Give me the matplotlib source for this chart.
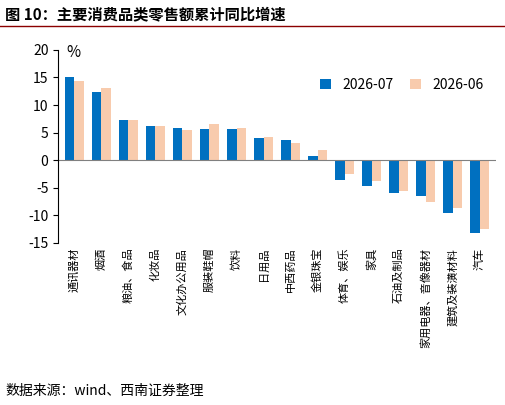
import matplotlib
matplotlib.use("Agg")
import matplotlib.pyplot as plt
import numpy as np

plt.rcParams['font.family'] = ['Noto Sans CJK SC', 'DejaVu Sans']
plt.rcParams['axes.unicode_minus'] = False

categories = ["通讯器材","烟酒","粮油、食品","化妆品","文化办公用品","服装鞋帽","饮料","日用品",
              "中西药品","金银珠宝","体育、娱乐","家具","石油及制品","家用电器、音像器材","建筑及装潢材料","汽车"]
s_2607 = [15.1,12.4,7.3,6.2,5.9,5.6,5.6,4.0,3.7,0.7,-3.5,-4.6,-6.0,-6.5,-9.5,-13.2]
s_2606 = [14.3,13.1,7.2,6.2,5.5,6.6,5.8,4.2,3.1,1.8,-2.5,-3.8,-5.6,-7.5,-8.6,-12.4]

fig = plt.figure(figsize=(5.06,4.05), dpi=100)
ax = fig.add_axes([0.115,0.40,0.865,0.477])
x = np.arange(len(categories))
w = 0.35
ax.bar(x-w/2, s_2607, w, color='#0070C0', label='2026-07')
ax.bar(x+w/2, s_2606, w, color='#F8CBAD', label='2026-06')
ax.set_ylim(-15,20)
ax.set_yticks(range(-15,21,5))
ax.set_xlim(-0.6,len(categories)-0.4)
ax.set_xticks(x)
ax.set_xticklabels(categories, rotation=90, fontsize=8)
ax.tick_params(axis='x', length=0)
ax.tick_params(axis='y', labelsize=10)
for s in ['top','right','bottom']:
    ax.spines[s].set_visible(False)
ax.axhline(0,color='#808080',lw=0.8)
ax.text(-0.3,19.5,'%',fontsize=11,va='center')
ax.legend(loc='upper right', bbox_to_anchor=(1.0,0.92), frameon=False, fontsize=10, ncol=2,
          handlelength=0.8, columnspacing=1.2)

fig.text(0.01,0.965,'图 10：主要消费品类零售额累计同比增速',fontsize=11,fontweight='bold',va='center')
fig.add_artist(plt.Line2D([0.0,1.0],[0.935,0.935],color='#8B0000',lw=1))
fig.text(0.01,0.035,'数据来源：wind、西南证券整理',fontsize=10,style='italic',va='center')
fig.savefig('out.png', dpi=100)
